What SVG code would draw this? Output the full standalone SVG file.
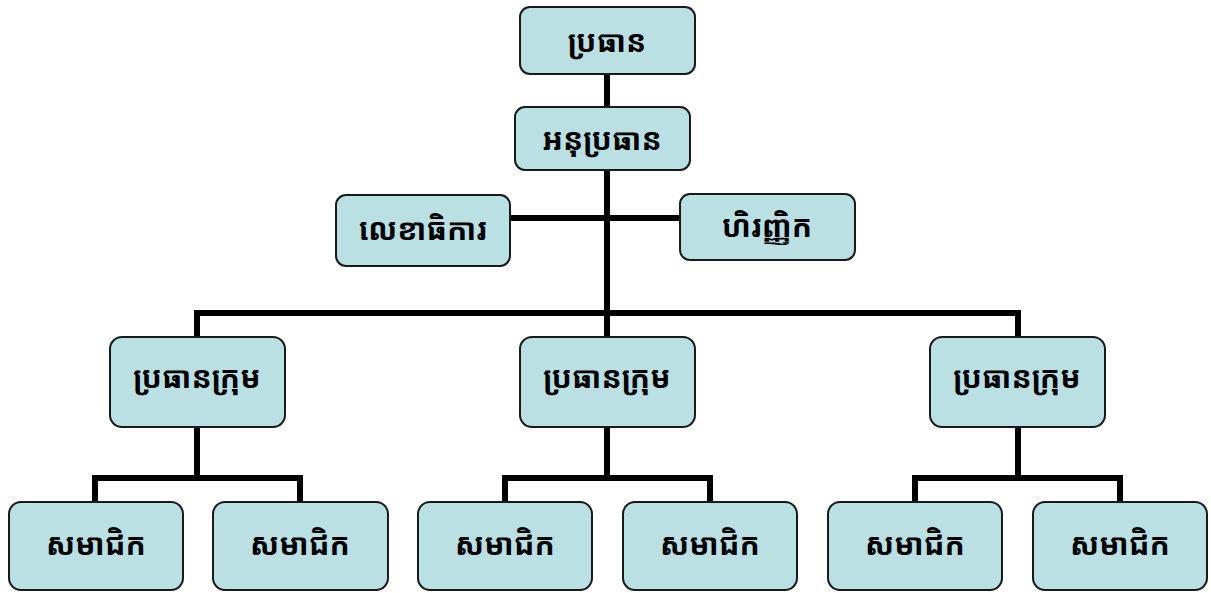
<svg xmlns="http://www.w3.org/2000/svg" width="1211" height="593" viewBox="0 0 1211 593">
<style>
.box{fill:#bae0e3;stroke:#1a1a1a;stroke-width:2}
.t{font-family:"Noto Sans Khmer","Khmer OS","Noto Serif Khmer","Liberation Sans",sans-serif;font-weight:bold;font-size:30px;fill:#000;text-anchor:middle;dominant-baseline:central}
.c{fill:none;stroke:#000;stroke-width:6}
</style>
<rect width="1211" height="593" fill="#fff"/>
<g id="connectors">
<path class="c" d="M607 74V313"/>
<path class="c" d="M510 218H680"/>
<path class="c" d="M197 337V313H1018V337M607 313V337"/>
<path class="c" d="M197 427V478M95 502V478H300V502"/>
<path class="c" d="M607 427V478M505 502V478H710V502"/>
<path class="c" d="M1018 427V478M915 502V478H1120V502"/>
</g>
<g id="n1"><rect class="box" x="520" y="7" width="175" height="67" rx="10"/><text class="t" x="607" y="40">ប្រធាន</text></g>
<g id="n2"><rect class="box" x="515" y="107" width="175" height="63" rx="10"/><text class="t" x="602" y="138">អនុប្រធាន</text></g>
<g id="n3"><rect class="box" x="336" y="195" width="174" height="71" rx="10"/><text class="t" x="423" y="228">លេខាធិការ</text></g>
<g id="n4"><rect class="box" x="680" y="194" width="175" height="66" rx="10"/><text class="t" x="767" y="225">ហិរញ្ញិក</text></g>
<g id="g1"><rect class="box" x="110" y="337" width="175" height="90" rx="12"/><text class="t" x="197" y="376">ប្រធានក្រុម</text></g>
<g id="g2"><rect class="box" x="520" y="337" width="175" height="90" rx="12"/><text class="t" x="607" y="376">ប្រធានក្រុម</text></g>
<g id="g3"><rect class="box" x="930" y="337" width="175" height="90" rx="12"/><text class="t" x="1017" y="376">ប្រធានក្រុម</text></g>
<g id="m1"><rect class="box" x="9" y="502" width="174" height="88" rx="12"/><text class="t" x="96" y="543">សមាជិក</text></g>
<g id="m2"><rect class="box" x="213" y="502" width="175" height="88" rx="12"/><text class="t" x="300" y="543">សមាជិក</text></g>
<g id="m3"><rect class="box" x="418" y="502" width="174" height="88" rx="12"/><text class="t" x="505" y="543">សមាជិក</text></g>
<g id="m4"><rect class="box" x="623" y="502" width="174" height="88" rx="12"/><text class="t" x="710" y="543">សមាជិក</text></g>
<g id="m5"><rect class="box" x="828" y="502" width="174" height="88" rx="12"/><text class="t" x="915" y="543">សមាជិក</text></g>
<g id="m6"><rect class="box" x="1033" y="502" width="174" height="88" rx="12"/><text class="t" x="1120" y="543">សមាជិក</text></g>
</svg>
